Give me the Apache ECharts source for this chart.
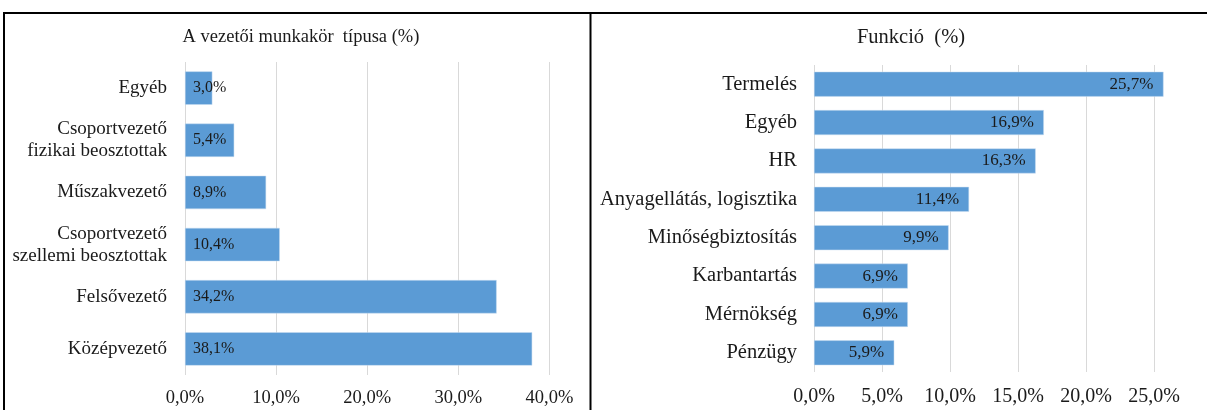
<!DOCTYPE html>
<html>
<head>
<meta charset="utf-8">
<script src="https://cdn.jsdelivr.net/npm/echarts@6/dist/echarts.min.js"></script>
<style>
html,body{margin:0;padding:0;background:#fff;}
#c{width:1207px;height:410px;}
</style>
</head>
<body>
<div id="c"></div>
<script>
const leftTitle = 'A vezetői munkakör  típusa (%)';
const leftCategories = ['Egyéb', 'Csoportvezető\nfizikai beosztottak', 'Műszakvezető', 'Csoportvezető\nszellemi beosztottak', 'Felsővezető', 'Középvezető'];
const leftValues = [3.0, 5.4, 8.9, 10.4, 34.2, 38.1];
const leftTicks = [0, 10, 20, 30, 40];

const rightTitle = 'Funkció  (%)';
const rightCategories = ['Termelés', 'Egyéb', 'HR', 'Anyagellátás, logisztika', 'Minőségbiztosítás', 'Karbantartás', 'Mérnökség', 'Pénzügy'];
const rightValues = [25.7, 16.9, 16.3, 11.4, 9.9, 6.9, 6.9, 5.9];
const rightTicks = [0, 5, 10, 15, 20, 25, 30];

const FONT = 'Liberation Serif';
const TXT = '#1a1a1a';
const BAR = '#5B9BD5';
const fmt = v => Number(v).toFixed(1).replace('.', ',') + '%';

const chart = echarts.init(document.getElementById('c'), null, {renderer: 'canvas'});
chart.setOption({
  backgroundColor: '#fff',
  animation: false,
  title: [
    {text: leftTitle, left: 296, top: 23, textAlign: 'center',
     textStyle: {fontFamily: FONT, fontSize: 18.5, fontWeight: 'normal', color: TXT}},
    {text: rightTitle, left: 906, top: 22, textAlign: 'center',
     textStyle: {fontFamily: FONT, fontSize: 20.5, fontWeight: 'normal', color: TXT}}
  ],
  grid: [
    {left: 185, top: 62, width: 364.5, height: 313, containLabel: false, outerBoundsMode: 'none'},
    {left: 814, top: 65, width: 408, height: 307, containLabel: false, outerBoundsMode: 'none'}
  ],
  xAxis: [
    {type: 'value', gridIndex: 0, min: leftTicks[0], max: leftTicks[leftTicks.length - 1], interval: 10,
     axisLine: {show: false}, axisTick: {show: false},
     splitLine: {show: true, lineStyle: {color: '#d9d9d9', width: 1}},
     axisLabel: {formatter: fmt, fontFamily: FONT, fontSize: 18.5, color: TXT, margin: 14}},
    {type: 'value', gridIndex: 1, min: rightTicks[0], max: rightTicks[rightTicks.length - 1], interval: 5,
     axisLine: {show: false}, axisTick: {show: false},
     splitLine: {show: true, lineStyle: {color: '#d9d9d9', width: 1}},
     axisLabel: {formatter: fmt, fontFamily: FONT, fontSize: 20, color: TXT, margin: 15, showMaxLabel: false}}
  ],
  yAxis: [
    {type: 'category', gridIndex: 0, data: leftCategories, inverse: true,
     axisLine: {show: false}, axisTick: {show: false},
     axisLabel: {fontFamily: FONT, fontSize: 19, color: TXT, margin: 18, lineHeight: 22, align: 'right'}},
    {type: 'category', gridIndex: 1, data: rightCategories, inverse: true,
     axisLine: {show: false}, axisTick: {show: false},
     axisLabel: {fontFamily: FONT, fontSize: 20.5, color: TXT, margin: 17, align: 'right'}}
  ],
  series: [
    {type: 'bar', xAxisIndex: 0, yAxisIndex: 0, data: leftValues, barWidth: '64%',
     itemStyle: {color: BAR, borderColor: '#c9dcf0', borderWidth: 0.5},
     label: {show: true, position: 'insideLeft', distance: 8, formatter: p => fmt(p.value),
             fontFamily: FONT, fontSize: 16, color: TXT}},
    {type: 'bar', xAxisIndex: 1, yAxisIndex: 1, data: rightValues, barWidth: '65%',
     itemStyle: {color: BAR, borderColor: '#c9dcf0', borderWidth: 0.5},
     label: {show: true, position: 'insideRight', distance: 10, formatter: p => fmt(p.value),
             fontFamily: FONT, fontSize: 17, color: TXT}}
  ],
  graphic: [
    {type: 'line', shape: {x1: 3, y1: 13, x2: 1207, y2: 13}, style: {stroke: '#000', lineWidth: 2}, silent: true},
    {type: 'line', shape: {x1: 4, y1: 12, x2: 4, y2: 410}, style: {stroke: '#000', lineWidth: 2}, silent: true},
    {type: 'line', shape: {x1: 590.5, y1: 12, x2: 590.5, y2: 410}, style: {stroke: '#000', lineWidth: 2}, silent: true}
  ]
});
</script>
</body>
</html>
